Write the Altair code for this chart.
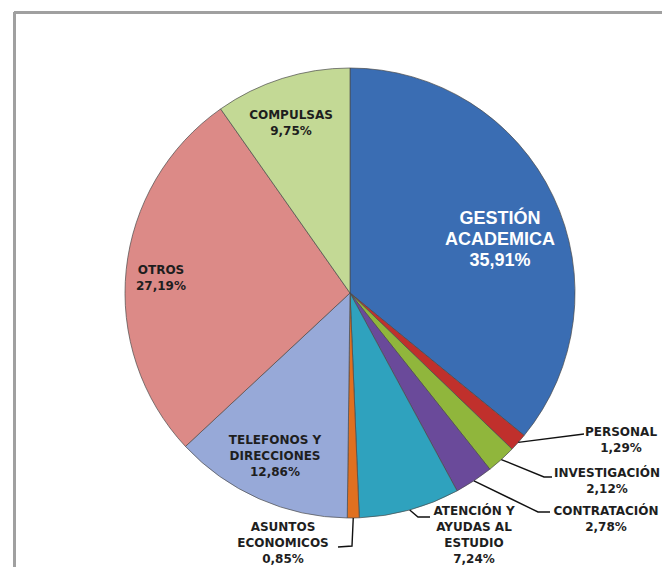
import math
import altair as alt
import pandas as pd

# ---- data ----
categories = ["GESTIÓN ACADEMICA", "PERSONAL", "INVESTIGACIÓN", "CONTRATACIÓN",
              "ATENCIÓN Y AYUDAS AL ESTUDIO", "ASUNTOS ECONOMICOS",
              "TELEFONOS Y DIRECCIONES", "OTROS", "COMPULSAS"]
values = [35.91, 1.29, 2.12, 2.78, 7.24, 0.85, 12.86, 27.19, 9.75]
label_names = ["GESTIÓN\nACADEMICA", "PERSONAL", "INVESTIGACIÓN", "CONTRATACIÓN",
               "ATENCIÓN Y\nAYUDAS AL\nESTUDIO", "ASUNTOS\nECONOMICOS",
               "TELEFONOS Y\nDIRECCIONES", "OTROS", "COMPULSAS"]
colors = ["#3a6db3", "#c0302c", "#90b63c", "#6a4a9a", "#2fa2be",
          "#e07020", "#97a9d8", "#dc8a87", "#c3d995"]

# ---- layout (page pixels; pie centre and radius; label = first line centre) ----
CX, CY, R = 350.0, 293.0, 225.0
W, H = 654, 559
label_pos = {
    "GESTIÓN ACADEMICA": (500, 219),
    "PERSONAL": (621, 432),
    "INVESTIGACIÓN": (607, 473),
    "CONTRATACIÓN": (606, 511),
    "ATENCIÓN Y AYUDAS AL ESTUDIO": (474, 511),
    "ASUNTOS ECONOMICOS": (283, 527),
    "TELEFONOS Y DIRECCIONES": (275, 440),
    "OTROS": (161, 270),
    "COMPULSAS": (291, 115),
}
leader_pts = {
    "PERSONAL": [(584, 434)],
    "INVESTIGACIÓN": [(544, 477), (552, 477)],
    "CONTRATACIÓN": [(538, 512), (550, 512)],
    "ATENCIÓN Y AYUDAS AL ESTUDIO": [(418, 517), (430, 517)],
    "ASUNTOS ECONOMICOS": [(352, 546), (338, 547)],
}


def to_u(px):
    return (px - CX) / R


def to_v(py):
    return (CY - py) / R


def pct(v):
    return f"{v:.2f}".replace(".", ",") + "%"


df = pd.DataFrame({"cat": categories, "value": values, "idx": list(range(len(values)))})

labels = []
for c, v, name in zip(categories, values, label_names):
    px, py = label_pos[c]
    labels.append({"cat": c, "text": name + "\n" + pct(v), "u": to_u(px), "v": to_v(py),
                   "main": c == "GESTIÓN ACADEMICA"})
lab_df = pd.DataFrame(labels)

total = sum(values)
lines = []
cum = 0.0
for c, v in zip(categories, values):
    mid = (cum + v / 2) / total * 2 * math.pi
    cum += v
    if c in leader_pts:
        lines.append({"cat": c, "pt": 0, "u": math.sin(mid) * 1.0, "v": math.cos(mid) * 1.0})
        for k, (px, py) in enumerate(leader_pts[c]):
            lines.append({"cat": c, "pt": k + 1, "u": to_u(px), "v": to_v(py)})
line_df = pd.DataFrame(lines)

xs = alt.Scale(domain=[to_u(8), to_u(8 + W)], nice=False, zero=False)
ys = alt.Scale(domain=[to_v(8 + H), to_v(8)], nice=False, zero=False)

pie = alt.Chart(df).mark_arc(radius=R, stroke="#4a4a4a", strokeWidth=0.7).encode(
    theta=alt.Theta("value:Q", stack=True),
    color=alt.Color("cat:N", scale=alt.Scale(domain=categories, range=colors), legend=None),
    order=alt.Order("idx:Q"),
    x=alt.value(CX - 8),
    y=alt.value(CY - 8),
)

leaders = alt.Chart(line_df).mark_line(color="#111111", strokeWidth=1.4).encode(
    x=alt.X("u:Q", scale=xs, axis=None),
    y=alt.Y("v:Q", scale=ys, axis=None),
    detail="cat:N",
    order="pt:Q",
)

small_text = alt.Chart(lab_df).transform_filter("!datum.main").mark_text(
    font="DejaVu Sans", fontWeight="bold", fontSize=12, color="#1e1e1e",
    lineBreak="\n", lineHeight=16, align="center", baseline="middle",
).encode(
    x=alt.X("u:Q", scale=xs, axis=None),
    y=alt.Y("v:Q", scale=ys, axis=None),
    text="text:N",
)

main_text = alt.Chart(lab_df).transform_filter("datum.main").mark_text(
    font="Liberation Sans", fontWeight="bold", fontSize=18, color="#ffffff",
    lineBreak="\n", lineHeight=21, align="center", baseline="middle",
).encode(
    x=alt.X("u:Q", scale=xs, axis=None),
    y=alt.Y("v:Q", scale=ys, axis=None),
    text="text:N",
)

frame_top = alt.Chart(df).mark_rule(color="#a0a0a0", strokeWidth=3).encode(
    x=alt.value(6), x2=alt.value(W), y=alt.value(4.5))
frame_left = alt.Chart(df).mark_rule(color="#a0a0a0", strokeWidth=3).encode(
    x=alt.value(6.5), y=alt.value(4), y2=alt.value(H))

chart = alt.layer(frame_top, frame_left, pie, leaders, small_text, main_text).properties(
    width=W, height=H, padding=0, autosize=alt.AutoSizeParams(type="none"),
    background="white",
).configure_view(stroke=None)

chart.save("out.html", embed_options={"renderer": "svg", "actions": False})
